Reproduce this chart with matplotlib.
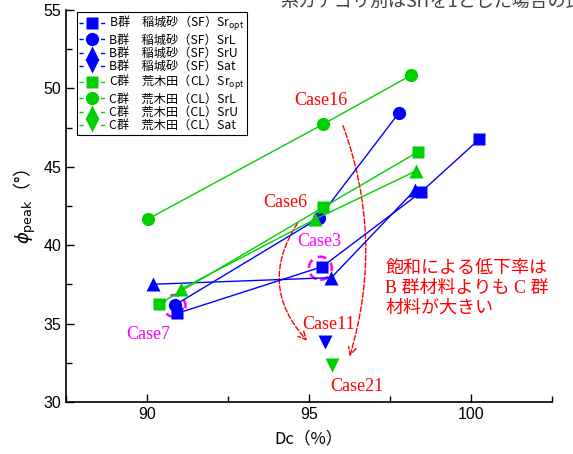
import matplotlib
matplotlib.use('Agg')
import matplotlib.pyplot as plt
from matplotlib.lines import Line2D
from matplotlib.patches import Ellipse, FancyArrowPatch
from matplotlib.ticker import MultipleLocator

plt.rcParams['font.family'] = ['Noto Sans CJK JP', 'DejaVu Sans']
plt.rcParams['mathtext.fontset'] = 'custom'
plt.rcParams['mathtext.rm'] = 'Noto Sans CJK JP'
plt.rcParams['mathtext.it'] = 'Noto Sans CJK JP'

BLUE = '#0000ff'
GREEN = '#00d000'

# %% DATA (Dc %, phi_peak deg)
b_opt_dc = [90.94, 95.41, 98.45, 100.25]
b_opt_phi = [35.66, 38.63, 43.37, 46.75]
b_srl_dc = [90.85, 95.30, 97.78]
b_srl_phi = [36.17, 41.72, 48.45]
b_sru_dc = [90.20, 95.69, 98.27]
b_sru_phi = [37.51, 37.93, 43.52]
b_sat_dc = [95.48]
b_sat_phi = [33.85]

c_opt_dc = [90.37, 95.44, 98.37]
c_opt_phi = [36.25, 42.42, 45.96]
c_srl_dc = [90.03, 95.43, 98.16]
c_srl_phi = [41.67, 47.71, 50.85]
c_sru_dc = [91.04, 95.20, 98.30]
c_sru_phi = [37.19, 41.67, 44.73]
c_sat_dc = [95.72]
c_sat_phi = [32.36]

labels = ['B群　稲城砂（SF）Sr$_{\\mathrm{opt}}$', 'B群　稲城砂（SF）SrL',
          'B群　稲城砂（SF）SrU', 'B群　稲城砂（SF）Sat',
          'C群　荒木田（CL）Sr$_{\\mathrm{opt}}$', 'C群　荒木田（CL）SrL',
          'C群　荒木田（CL）SrU', 'C群　荒木田（CL）Sat']

cases = ['Case16', 'Case6', 'Case3', 'Case7', 'Case11', 'Case21']
case_x = [95.36, 94.28, 95.31, 90.03, 95.60, 96.49]
case_y = [49.26, 42.71, 40.22, 34.32, 34.96, 30.98]
case_col = ['red', 'red', '#ff00ff', '#ff00ff', 'red', 'red']

# %% PLOT
fig = plt.figure(figsize=(5.73, 4.54), dpi=100)
ax = fig.add_axes([66/573, 1-402/454, 486/573, 392/454])

series = [(b_opt_dc, b_opt_phi, BLUE, 's', 8.5),
          (b_srl_dc, b_srl_phi, BLUE, 'o', 9.5),
          (b_sru_dc, b_sru_phi, BLUE, '^', 10),
          (b_sat_dc, b_sat_phi, BLUE, 'v', 10),
          (c_opt_dc, c_opt_phi, GREEN, 's', 8.5),
          (c_srl_dc, c_srl_phi, GREEN, 'o', 9.5),
          (c_sru_dc, c_sru_phi, GREEN, '^', 10),
          (c_sat_dc, c_sat_phi, GREEN, 'v', 10)]

fs_leg = 8.8
hlen = 2.1
L = fs_leg * hlen
handles = []
for (xs, ys, col, mk, ms), lab in zip(series, labels):
    ax.plot(xs, ys, color=col, lw=1.0, marker=mk, ms=ms, mec='none', mfc=col)
    # short dash at each end of the legend handle, marker in the middle
    handles.append(Line2D([], [], color=col, lw=1.0, ls=(0, (3, L - 6)),
                          marker=mk, ms=ms, mec='none', mfc=col, label=lab))

leg = ax.legend(handles=handles, loc='upper left', bbox_to_anchor=(11/486, 1-2/392),
                borderaxespad=0, fontsize=fs_leg, handlelength=hlen, handletextpad=0.3,
                labelspacing=0.02, borderpad=0.2, fancybox=False, framealpha=1,
                edgecolor='black')
leg.get_frame().set_linewidth(0.8)

# dashed circles
ax.add_patch(Ellipse((95.35, 38.53), 0.71, 1.47, fill=False, ec='#ff00ff', lw=1.8, ls=(0, (3.5, 2.5))))
ax.add_patch(Ellipse((90.85, 36.12), 0.68, 1.40, fill=False, ec='#ff00ff', lw=1.8, ls=(0, (3.5, 2.5))))

# dashed arrows
ax.add_patch(FancyArrowPatch((94.69, 41.54), (95.0, 33.78), connectionstyle='arc3,rad=0.4',
                             arrowstyle='->', mutation_scale=14, color='red', lw=1.0, ls='--'))
ax.add_patch(FancyArrowPatch((96.02, 47.79), (96.23, 32.74), connectionstyle='arc3,rad=-0.17',
                             arrowstyle='->', mutation_scale=14, color='red', lw=1.0, ls='--'))

for t, x, y, c in zip(cases, case_x, case_y, case_col):
    ax.text(x, y, t, color=c, fontsize=13, family='Liberation Serif', ha='center', va='center')

ax.text(97.35, 37.25, '飽和による低下率は\nB 群材料よりも C 群\n材料が大きい', color='red',
        fontsize=13, family=['Liberation Serif', 'Noto Sans CJK JP'], ha='left', va='center',
        linespacing=1.25)

ax.set_xlim(87.5, 102.5)
ax.set_ylim(30, 55)
ax.xaxis.set_major_locator(MultipleLocator(5))
ax.xaxis.set_minor_locator(MultipleLocator(2.5))
ax.yaxis.set_major_locator(MultipleLocator(5))
ax.yaxis.set_minor_locator(MultipleLocator(2.5))
ax.tick_params(which='both', direction='in', width=1, labelsize=11.5)
ax.tick_params(which='major', length=6)
ax.tick_params(which='minor', length=4)
for lab in ax.get_xticklabels() + ax.get_yticklabels():
    lab.set_family('Liberation Sans')
ax.spines['top'].set_visible(False)
ax.spines['right'].set_visible(False)
ax.spines['left'].set_linewidth(1.2)
ax.spines['bottom'].set_linewidth(1.2)

ax.set_xlabel('Dc（%）', fontsize=12, labelpad=6)
ylab = ax.set_ylabel('$\\phi_{\\mathrm{peak}}$（°）', fontsize=13, labelpad=4)
ylab.set_math_fontfamily('dejavusans')

# caption line of the page above, cut by the top edge as in the source image
fig.text(280/573, 1-7/454, '系カテゴリ別はSrfを1とした場合の比較', fontsize=13,
         color='#404040', va='baseline', ha='left')

fig.savefig('out.png', dpi=100)
